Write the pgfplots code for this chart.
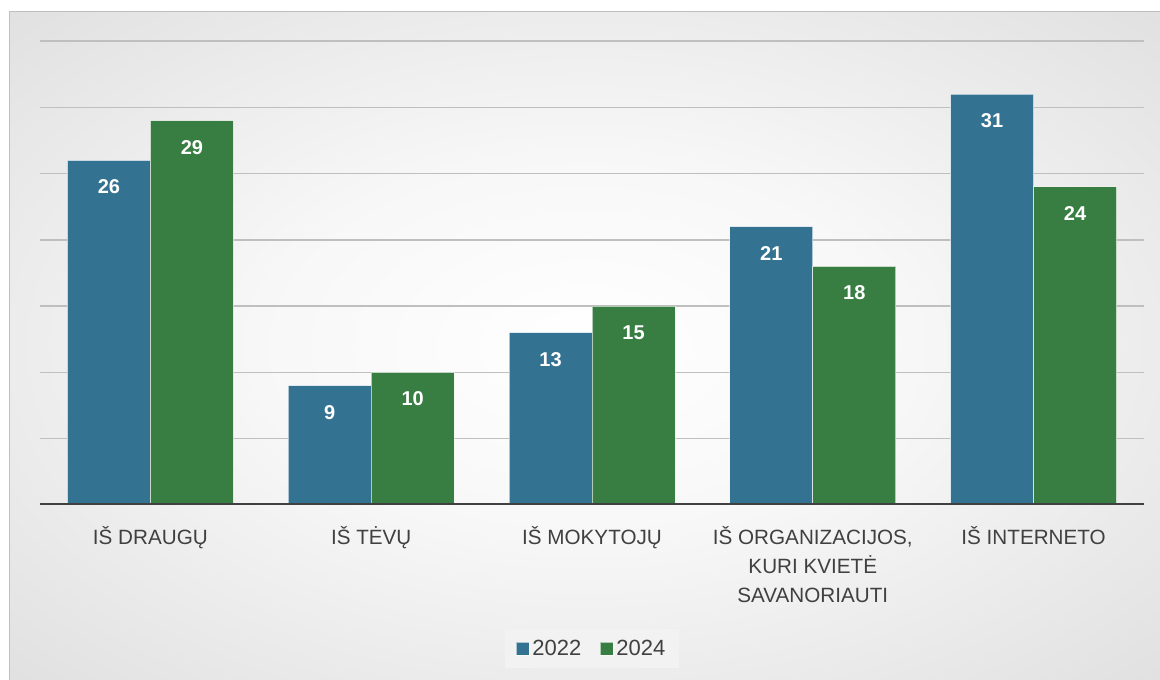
\documentclass[border=0pt]{standalone}
\usepackage{pgfplots}
\pgfplotsset{compat=1.18}
\usepackage{fontspec}
\setmainfont{Liberation Sans}
\definecolor{cblue}{HTML}{337290}
\definecolor{cgreen}{HTML}{387D42}
\definecolor{txt}{HTML}{404040}
\definecolor{gridc}{HTML}{BFBFBF}
\pgfdeclareradialshading{bgshade}{\pgfpoint{0bp}{0bp}}{color(0bp)=(white); color(14bp)=(white!97!black); color(50bp)=(black!18); color(72bp)=(black!27); color(100bp)=(black!27)}
\begin{document}
\begin{tikzpicture}
\useasboundingbox (0,0) rectangle (870pt,510pt);
\shade[shading=bgshade] (6.75pt,0) rectangle (870pt,501pt);
\draw[gridc, line width=0.75pt] (6.75pt,0) -- (6.75pt,501pt) -- (870pt,501pt);
\begin{axis}[
  at={(30pt,131.25pt)}, anchor=south west,
  scale only axis, width=828pt, height=348pt,
  ybar=0pt, bar width=62.25pt,
  xmin=-0.5, xmax=4.5, ymin=0, ymax=35,
  xtick={0,...,4},
  xticklabels={{IŠ DRAUGŲ},{IŠ TĖVŲ},{IŠ MOKYTOJŲ},{IŠ ORGANIZACIJOS,\\KURI KVIETĖ\\SAVANORIAUTI},{IŠ INTERNETO}},
  xticklabel style={align=center, font=\fontsize{15.5}{21.75}\selectfont, text=txt, yshift=-12.75pt},
  ytick={5,10,...,35}, yticklabels={},
  ymajorgrids, grid style={gridc, line width=1.1pt},
  axis line style={draw=none},
  major tick length=0pt,
  /pgf/number format/assume math mode=true,
  nodes near coords,
  every node near coord/.append style={font=\bfseries\fontsize{15}{15}\selectfont, text=white, anchor=center, yshift=-20pt},
  legend columns=2,
  legend style={at={(0.5,-0.31)}, anchor=center, draw=none, fill=black!5, inner xsep=8pt, inner ysep=6pt,
    font=\fontsize{16.5}{16.5}\selectfont, text=txt,
    /tikz/every even column/.append style={column sep=12pt}},
  legend image code/.code={\fill[#1] (0pt,-4.9pt) rectangle (9.75pt,4.9pt);},
]
\addplot[fill=cblue, draw=white, draw opacity=0.6, line width=0.6pt] coordinates {(0,26) (1,9) (2,13) (3,21) (4,31)};
\addplot[fill=cgreen, draw=white, draw opacity=0.6, line width=0.6pt] coordinates {(0,29) (1,10) (2,15) (3,18) (4,24)};
\legend{2022,2024}
\draw[txt, line width=2.25pt] (rel axis cs:0,0) -- (rel axis cs:1,0);
\end{axis}
\end{tikzpicture}
\end{document}
